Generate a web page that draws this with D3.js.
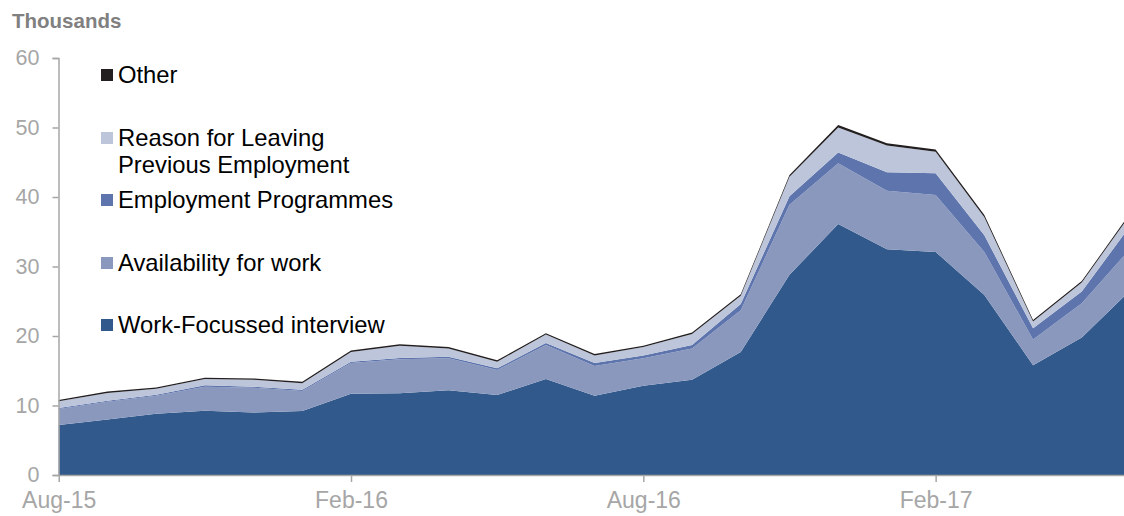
<!DOCTYPE html>
<meta charset="utf-8">
<script src="https://d3js.org/d3.v7.min.js"></script>
<style>
  body { margin: 0; background: #fff; }
  text { font-family: "Liberation Sans", Arial, sans-serif; }
</style>
<div id="my_dataviz"></div>
<script>

// months on the x axis
var months = ["Aug-15","Sep-15","Oct-15","Nov-15","Dec-15","Jan-16","Feb-16","Mar-16","Apr-16","May-16","Jun-16","Jul-16",
              "Aug-16","Sep-16","Oct-16","Nov-16","Dec-16","Jan-17","Feb-17","Mar-17","Apr-17","May-17","Jun-17"];
var xTickLabels = ["Aug-15","Feb-16","Aug-16","Feb-17"];
var yTicks = [0, 10, 20, 30, 40, 50, 60];

// series values (thousands)
var workFocussed = [7.2, 8.0, 8.8, 9.25, 9.0, 9.2, 11.7, 11.75, 12.2, 11.5, 13.8, 11.4, 12.85, 13.7, 17.7, 28.8, 36.1, 32.5, 32.1, 25.9, 15.8, 19.8, 26.6];
var availability = [2.3, 2.55, 2.6, 3.45, 3.55, 2.9, 4.4, 4.9, 4.6, 3.6, 4.9, 4.3, 3.95, 4.5, 6.0, 10.1, 8.75, 8.4, 8.2, 6.2, 3.7, 4.9, 6.0];
var employmentProg = [0.15, 0.15, 0.15, 0.2, 0.15, 0.15, 0.2, 0.2, 0.2, 0.25, 0.3, 0.4, 0.4, 0.5, 0.9, 1.2, 1.55, 2.65, 3.1, 2.4, 1.6, 1.7, 3.3];
var reasonLeaving = [0.95, 1.1, 0.85, 0.9, 1.0, 0.95, 1.4, 1.75, 1.2, 0.95, 1.2, 1.1, 1.2, 1.6, 1.2, 2.8, 3.6, 3.85, 3.1, 2.6, 1.0, 1.3, 1.6];
var other = [0.2, 0.2, 0.2, 0.2, 0.2, 0.2, 0.2, 0.2, 0.2, 0.2, 0.2, 0.2, 0.2, 0.2, 0.2, 0.25, 0.35, 0.35, 0.35, 0.3, 0.2, 0.2, 0.25];

var keys = ["wfi", "avail", "ep", "rfl", "other"];
var colors = {wfi: "#31598b", avail: "#8a98bd", ep: "#5e74ad", rfl: "#bcc5da", other: "#231f20"};

// table for the stack
var data = months.map(function(m, i) {
  return {month: m, wfi: workFocussed[i], avail: availability[i], ep: employmentProg[i], rfl: reasonLeaving[i], other: other[i]};
});

var width = 1124, height = 516;

var svg = d3.select("#my_dataviz")
  .append("svg")
    .attr("width", width)
    .attr("height", height);

var x = d3.scalePoint()
  .domain(months)
  .range([58.7, 1130.5]);

var y = d3.scaleLinear()
  .domain([0, 60])
  .range([475, 58]);

var stacked = d3.stack().keys(keys)(data);

var area = d3.area()
  .x(function(d) { return x(d.data.month) })
  .y0(function(d) { return y(d[0]) })
  .y1(function(d) { return y(d[1]) });

svg.append("g")
  .selectAll("path")
  .data(stacked)
  .enter()
  .append("path")
    .attr("d", area)
    .attr("fill", function(d) { return colors[d.key] });

// Y axis
var yAxis = svg.append("g")
  .attr("transform", "translate(58.5,0)")
  .call(d3.axisLeft(y).tickValues(yTicks).tickSize(6).tickPadding(13));
yAxis.select(".domain").attr("stroke", "#a6a6a6").attr("stroke-width", 1.5);
yAxis.selectAll(".tick line").attr("stroke", "#a6a6a6").attr("stroke-width", 1.5);
yAxis.selectAll(".tick text")
  .attr("fill", "#a6a6a6")
  .style("font-size", "21.5px")
  .style("font-family", "'Liberation Sans', Arial, sans-serif");

// X axis
var xAxis = svg.append("g")
  .attr("transform", "translate(0,475)")
  .call(d3.axisBottom(x).tickValues(xTickLabels).tickSize(7).tickSizeOuter(0).tickPadding(10));
xAxis.select(".domain").attr("stroke", "#a6a6a6").attr("stroke-width", 1.5);
xAxis.selectAll(".tick line").attr("stroke", "#a6a6a6").attr("stroke-width", 1.5);
xAxis.selectAll(".tick text")
  .attr("fill", "#a6a6a6")
  .style("font-size", "23px")
  .style("font-family", "'Liberation Sans', Arial, sans-serif");

// unit title
svg.append("text")
  .attr("x", 12)
  .attr("y", 28)
  .attr("fill", "#808080")
  .style("font-size", "20.5px")
  .style("font-weight", "bold")
  .text("Thousands");

// legend
var legendItems = [
  {key: "other", lines: ["Other"], cy: 75},
  {key: "rfl", lines: ["Reason for Leaving", "Previous Employment"], cy: 138},
  {key: "ep", lines: ["Employment Programmes"], cy: 200},
  {key: "avail", lines: ["Availability for work"], cy: 263},
  {key: "wfi", lines: ["Work-Focussed interview"], cy: 325}
];

var legend = svg.append("g");
legendItems.forEach(function(item) {
  legend.append("rect")
    .attr("x", 101)
    .attr("y", item.cy - 6)
    .attr("width", 12)
    .attr("height", 12)
    .attr("fill", colors[item.key]);
  item.lines.forEach(function(line, j) {
    legend.append("text")
      .attr("x", 118)
      .attr("y", item.cy + 8 + j * 26.5)
      .attr("fill", "#000")
      .style("font-size", "23.8px")
      .text(line);
  });
});

</script>
